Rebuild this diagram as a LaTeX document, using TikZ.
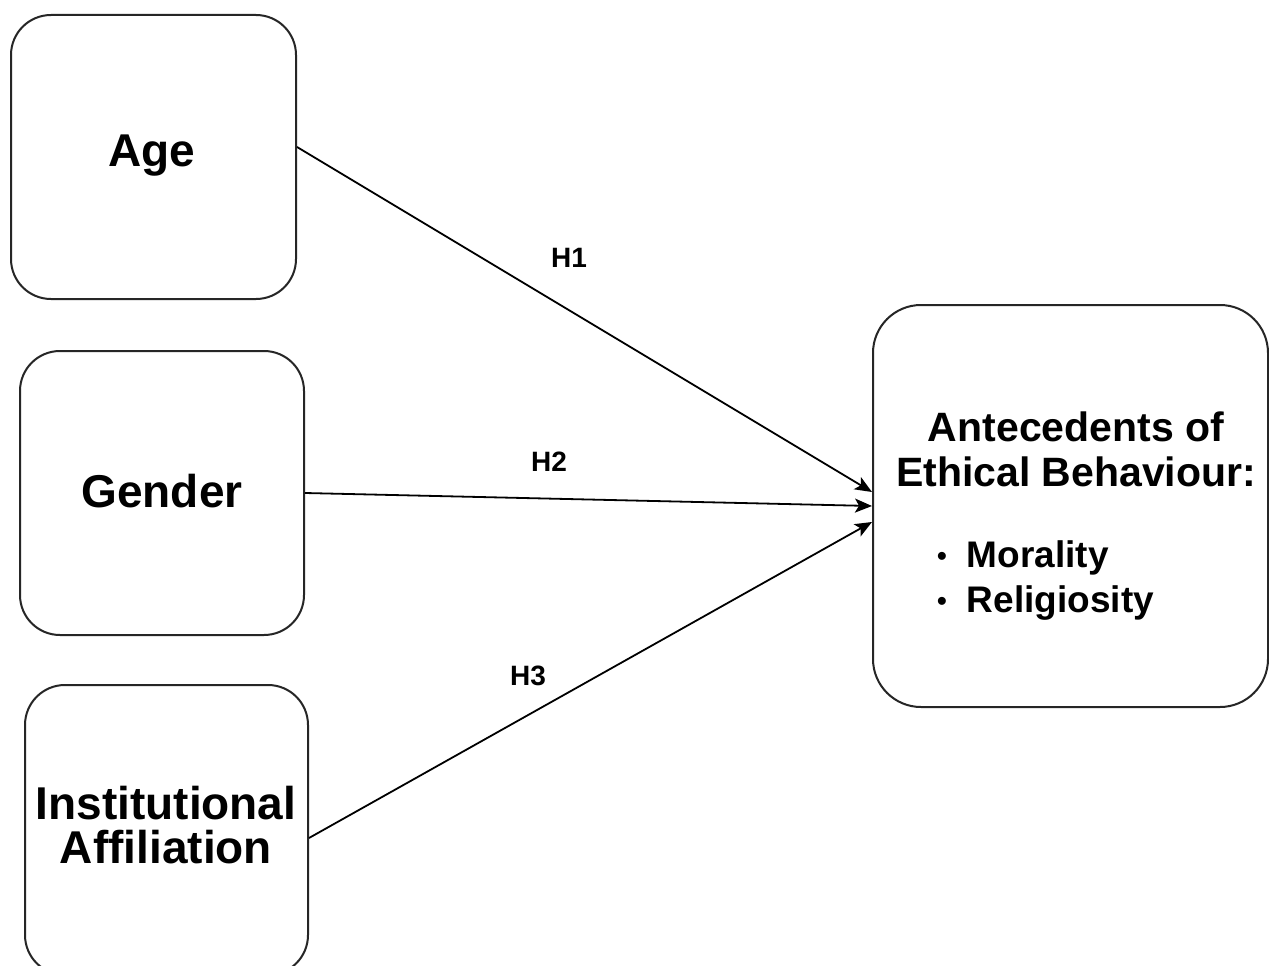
\documentclass[tikz,border=0pt]{standalone}
\usepackage{fontspec}
\setmainfont{Liberation Sans}
\usetikzlibrary{arrows.meta}
\begin{document}
\begin{tikzpicture}[x=1pt,y=-1pt,
  box/.style={draw=black!85, line width=2pt, rounded corners=40pt, fill=white, inner sep=0pt},
  big/.style={font=\fontsize{46}{44}\selectfont\bfseries, align=center, inner sep=0pt},
  mid/.style={font=\fontsize{41}{45}\selectfont\bfseries, align=center, inner sep=0pt},
  item/.style={font=\fontsize{37}{45}\selectfont\bfseries, anchor=west, inner sep=0pt},
  hlab/.style={font=\fontsize{28}{30}\selectfont\bfseries, inner sep=0pt},
  arr/.style={line width=1.8pt, draw=black, -{Stealth[length=17pt, width=14pt, inset=4pt]}}]
\useasboundingbox (0,0) rectangle (1269,966);
\fill[white] (0,0) rectangle (1269,966);
\node[box, minimum width=285pt, minimum height=284pt] (age) at (153.5,157) {};
\node[box, minimum width=284pt, minimum height=284pt] (gender) at (162,493) {};
\node[box, minimum width=283pt, minimum height=290pt] (inst) at (166.5,830) {};
\node[box, rounded corners=48pt, minimum width=395pt, minimum height=402pt] (ant) at (1070.5,506) {};
\node[big] (agetxt) at (152,156) {Age};
\node[big] (gentxt) at (162,491) {Gender};
\node[big] (insttxt) at (166,825) {Institutional\\Affiliation};
\node[mid] (anttxt) at (1076,449) {Antecedents of\\Ethical Behaviour:};
\node[item] (m1) at (937,558) {\raisebox{2pt}{\scalebox{0.75}{•}}\hspace{20pt}Morality};
\node[item] (m2) at (937,603) {\raisebox{2pt}{\scalebox{0.75}{•}}\hspace{20pt}Religiosity};
\draw[arr] ([yshift=10pt]age.east) -- ([yshift=14pt]ant.west);
\draw[arr] (gender.east) -- (ant.west);
\draw[arr] ([yshift=-8pt]inst.east) -- ([yshift=-16pt]ant.west);
\node[hlab] (h1) at (569,258) {H1};
\node[hlab] (h2) at (549,462) {H2};
\node[hlab] (h3) at (528,676) {H3};
\end{tikzpicture}
\end{document}
